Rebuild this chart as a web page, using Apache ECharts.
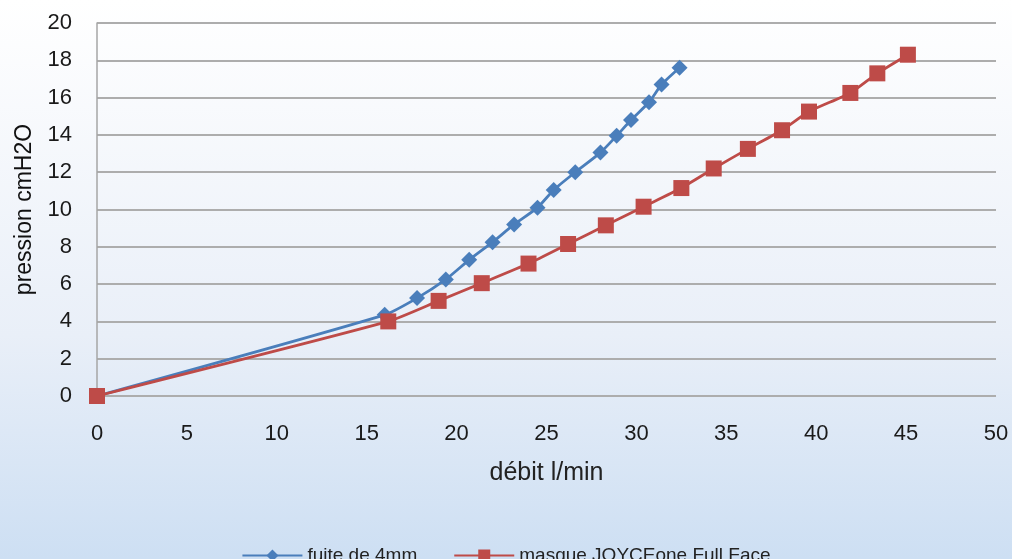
<!DOCTYPE html>
<html>
<head>
<meta charset="utf-8">
<script src="https://cdn.jsdelivr.net/npm/echarts@6/dist/echarts.min.js"></script>
<style>
html,body{margin:0;padding:0;width:1012px;height:559px;overflow:hidden;}
#c{width:1012px;height:559px;background:linear-gradient(to bottom,#ffffff 0%,#e9eff8 60%,#cddff3 100%);}
</style>
</head>
<body>
<div id="c"></div>
<script>
var seriesNames = ['fuite de 4mm', 'masque JOYCEone Full Face'];
var fuiteX = [0, 16, 17.8, 19.4, 20.7, 22, 23.2, 24.5, 25.4, 26.6, 28, 28.9, 29.7, 30.7, 31.4, 32.4];
var fuiteY = [0, 4.35, 5.25, 6.25, 7.3, 8.25, 9.2, 10.1, 11.05, 12, 13.05, 13.95, 14.8, 15.75, 16.7, 17.6];
var masqueX = [0, 16.2, 19, 21.4, 24, 26.2, 28.3, 30.4, 32.5, 34.3, 36.2, 38.1, 39.6, 41.9, 43.4, 45.1];
var masqueY = [0, 4, 5.1, 6.05, 7.1, 8.15, 9.15, 10.15, 11.15, 12.2, 13.25, 14.25, 15.25, 16.25, 17.3, 18.3];
var xTitle = 'débit l/min';
var yTitle = 'pression cmH2O';

function pairs(xs, ys){ return xs.map(function(x,i){ return [x, ys[i]]; }); }
var FONT = "'Liberation Sans',sans-serif";
var chart = echarts.init(document.getElementById('c'), null, {renderer:'canvas'});
chart.setOption({
  backgroundColor: 'transparent',
  animation: false,
  grid: {left: 97, right: 16, top: 23, bottom: 163, containLabel: false},
  legend: {
    top: 541, left: 'center',
    itemWidth: 60, itemHeight: 15, itemGap: 36,
    textStyle: {fontFamily: FONT, fontSize: 19, color: '#222'},
    data: seriesNames
  },
  xAxis: {
    type: 'value', min: 0, max: 50, interval: 5,
    name: xTitle, nameLocation: 'middle', nameGap: 65,
    nameTextStyle: {fontFamily: FONT, fontSize: 25, color: '#222'},
    axisLine: {show: false},
    axisTick: {show: false},
    splitLine: {show: false},
    axisLabel: {fontFamily: FONT, fontSize: 22, color: '#1a1a1a', margin: 27}
  },
  yAxis: {
    type: 'value', min: 0, max: 20, interval: 2,
    name: yTitle, nameLocation: 'middle', nameGap: 60, nameRotate: 90,
    nameTextStyle: {fontFamily: FONT, fontSize: 23, color: '#111'},
    axisLine: {show: true, lineStyle: {color: '#a6a6a6', width: 1.5}},
    axisTick: {show: false},
    splitLine: {show: true, lineStyle: {color: '#adadad', width: 1.8}},
    axisLabel: {fontFamily: FONT, fontSize: 22, color: '#1a1a1a', margin: 25}
  },
  series: [
    {
      name: seriesNames[0], type: 'line', data: pairs(fuiteX, fuiteY),
      smooth: 0.2, symbol: 'diamond', symbolSize: 16,
      lineStyle: {color: '#4a7ebb', width: 2.8},
      itemStyle: {color: '#4a7ebb'}, z: 3
    },
    {
      name: seriesNames[1], type: 'line', data: pairs(masqueX, masqueY),
      smooth: 0.2, symbol: 'rect', symbolSize: 16,
      lineStyle: {color: '#be4b48', width: 2.8},
      itemStyle: {color: '#be4b48'}, z: 4
    }
  ]
});
</script>
</body>
</html>
